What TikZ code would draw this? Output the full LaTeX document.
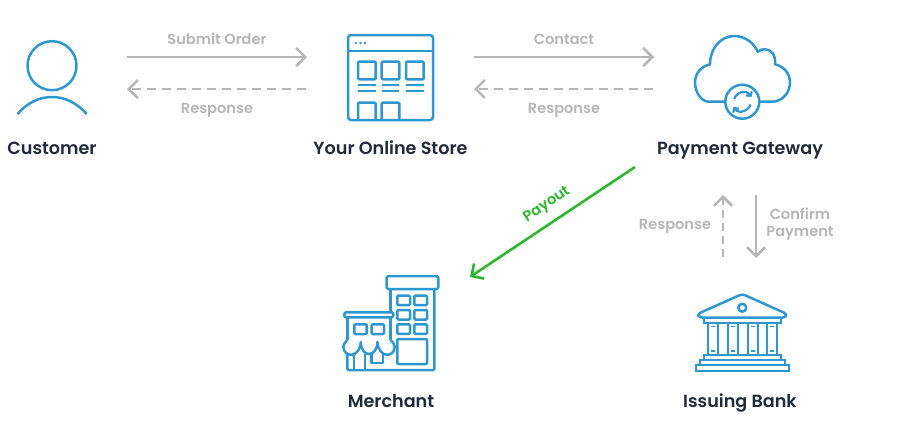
\documentclass[tikz,border=0pt]{standalone}
\usepackage{fontspec}
\setmainfont{Poppins}[BoldFont=Poppins SemiBold]
\usetikzlibrary{arrows.meta}
\definecolor{iconblue}{HTML}{2E97D0}
\definecolor{flowgray}{HTML}{B6B6B6}
\definecolor{paygreen}{HTML}{2DB52D}
\definecolor{titledark}{HTML}{1F2A3A}
\tikzset{
    icon/.style = {draw=iconblue, line width=2.5pt, line join=round},
    thinicon/.style = {draw=iconblue, line width=2.2pt},
    title/.style = {text=titledark, font=\bfseries\fontsize{17.6}{20}\selectfont, inner sep=0pt, anchor=base},
    flowlabel/.style = {text=flowgray, font=\bfseries\fontsize{14.6}{17}\selectfont, inner sep=0pt, align=center, anchor=base},
    flow/.style = {draw=flowgray, line width=2.6pt, -{Straight Barb[length=9pt,width=18pt]}},
    flowback/.style = {flow, dash pattern=on 9pt off 6pt},
    payflow/.style = {draw=paygreen, line width=2.6pt, -{Straight Barb[length=9pt,width=18pt]}}
}
\begin{document}
\begin{tikzpicture}[x=1pt,y=-1pt]
    \useasboundingbox (0,0) rectangle (900,437);
    % titles
    \node [title] (customer) at (52,154.5) {Customer};
    \node [title] (store) at (390.5,154.5) {Your Online Store};
    \node [title] (gateway) at (740,154.5) {Payment Gateway};
    \node [title] (merchant) at (391,407.5) {Merchant};
    \node [title] (bank) at (740,407.5) {Issuing Bank};
    % connector ends
    \coordinate (orderA) at (127,57);
    \coordinate (orderB) at (307,57);
    \coordinate (respA) at (306,89);
    \coordinate (respB) at (127,89);
    \coordinate (contactA) at (474,57);
    \coordinate (contactB) at (654,57);
    \coordinate (backA) at (653,89);
    \coordinate (backB) at (474,89);
    \coordinate (payA) at (635,167);
    \coordinate (payB) at (470,277);
    \coordinate (upA) at (723,257);
    \coordinate (upB) at (723,195);
    \coordinate (downA) at (756,195);
    \coordinate (downB) at (756,258);
    % connectors
    \draw [flow] (orderA) -- (orderB);
    \draw [flowback] (respA) -- (respB);
    \draw [flow] (contactA) -- (contactB);
    \draw [flowback] (backA) -- (backB);
    \draw [payflow] (payA) -- (payB);
    \draw [flowback, dash pattern=on 8pt off 5pt] (upA) -- (upB);
    \draw [flow] (downA) -- (downB);
    % connector labels
    \node [flowlabel] (orderlbl) at (217,44) {Submit Order};
    \node [flowlabel] (resplbl) at (217,113) {Response};
    \node [flowlabel] (contactlbl) at (564,44) {Contact};
    \node [flowlabel] (backlbl) at (564,113) {Response};
    \node [flowlabel, text=paygreen, anchor=center, rotate=33.7] (paylbl) at (547,205) {Payout};
    \node [flowlabel] (uplbl) at (675,229) {Response};
    \node [flowlabel, anchor=center] (downlbl) at (800,224) {Confirm\\Payment};
    % customer
    \draw [icon] (52,65.7) circle (24.5);
    \draw [icon] (17.5,114) .. controls (27,103) and (39,97) .. (52,97) .. controls (65,97) and (77,103) .. (86.7,114);
    % online store
    \draw [icon, rounded corners=3pt] (348,35) rectangle (433,120);
    \draw [thinicon] (348,50.7) -- (433,50.7);
    \foreach \dotx in {356,360.5,365} {
        \fill [iconblue] (\dotx,43) circle (1.3);
    }
    \foreach \colx in {358,381.7,406} {
        \draw [icon, rounded corners=1pt] (\colx,61.7) rectangle (\colx+17.7,79.3);
        \draw [thinicon] (\colx,85) -- (\colx+17.7,85);
        \draw [thinicon] (\colx,91) -- (\colx+17.7,91);
    }
    \foreach \colx in {358,381.7} {
        \draw [icon, rounded corners=1pt] (\colx,120) -- (\colx,102.7) -- (\colx+17.7,102.7) -- (\colx+17.7,120);
    }
    % payment gateway
    \draw [icon] (725.3,101.7) -- (709,101.7) .. controls (701,101.7) and (695,92) .. (695,82.3)
        .. controls (695,73) and (702,66) .. (710,64.3)
        .. controls (710,48) and (721,36) .. (734.3,36)
        .. controls (745,36) and (754,43) .. (757.7,51.7)
        .. controls (760,49.5) and (763,49.3) .. (765,49.3)
        .. controls (771,49.3) and (776,55) .. (775,64.3)
        .. controls (783,66) and (790,73) .. (790,82.3)
        .. controls (790,92) and (783,101.7) .. (772,101.7) -- (759.3,101.7);
    \draw [icon] (742.3,101.7) circle (17);
    \draw [thinicon, -{Straight Barb[length=3pt,width=7pt]}] (734.3,99) .. controls (735,94) and (745,88) .. (751.5,97);
    \draw [thinicon, -{Straight Barb[length=3pt,width=7pt]}] (750.3,104.5) .. controls (749.5,110) and (739,115) .. (733.5,107);
    % merchant
    \draw [icon, rounded corners=1.5pt] (386.7,276) rectangle (438.3,289);
    \draw [icon] (390.7,289) -- (390.7,312.3);
    \draw [icon] (390.7,317.3) -- (390.7,340);
    \draw [icon] (347.3,317.3) -- (347.3,340);
    \draw [icon, rounded corners=1pt] (434.3,289) -- (434.3,370) -- (347.3,370) -- (347.3,354);
    \foreach \winy in {295.7,310,324.3} {
        \draw [icon, rounded corners=1pt] (397.3,\winy) rectangle (410,\winy+9.5);
        \draw [icon, rounded corners=1pt] (414.3,\winy) rectangle (427,\winy+9.5);
    }
    \draw [icon, rounded corners=1pt] (397.3,339) rectangle (427,364);
    \draw [icon, rounded corners=1.5pt] (344.3,312.3) rectangle (393.3,317.3);
    \draw [icon, rounded corners=1pt] (354.3,324.3) rectangle (366.7,334);
    \draw [icon, rounded corners=1pt] (371.7,324.3) rectangle (384,334);
    \draw [icon] (347.3,340) .. controls (345,342) and (343.3,345) .. (343.3,347) .. controls (344,358) and (360,358) .. (360.8,342)
        .. controls (361,358) and (377,358) .. (377.5,342)
        .. controls (378,358) and (394.5,358) .. (394.7,347) .. controls (394.7,345) and (393,342) .. (390.7,340);
    \draw [icon] (354,354) -- (354,370) (365,354) -- (365,370);
    \draw [icon] (371.7,354) -- (371.7,363) -- (383,363) -- (383,354);
    % issuing bank
    \draw [icon, rounded corners=3pt] (742.3,294) -- (697.5,314) -- (699.5,317.7) -- (785,317.7) -- (787,314) -- cycle;
    \draw [icon] (742.3,307.7) circle (4);
    \draw [thinicon] (704,317.7) rectangle (780.7,322.7);
    \foreach \colx in {708.3,727.7,747.7,767.3} {
        \draw [thinicon] (\colx,322.7) rectangle (\colx+10,355);
        \draw [thinicon, line width=1.5pt] (\colx+3,326.7) -- (\colx+7,326.7) (\colx+3,351) -- (\colx+7,351);
    }
    \draw [thinicon] (704,355) rectangle (780.7,360);
    \draw [thinicon] (700,360) rectangle (785,365);
    \draw [thinicon] (696,365) rectangle (789,370.7);
\end{tikzpicture}
\end{document}
